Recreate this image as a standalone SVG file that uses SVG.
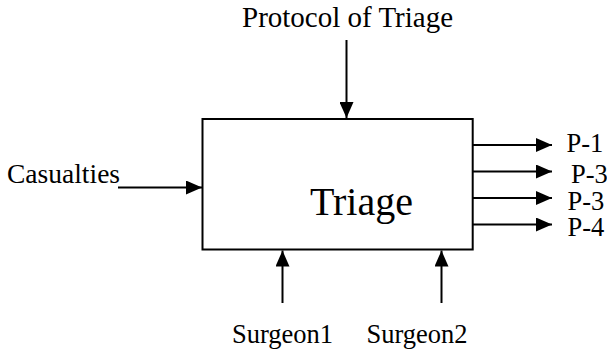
<svg xmlns="http://www.w3.org/2000/svg" width="607" height="351" viewBox="0 0 607 351">
  <style>
    .lbl { font-family: "Liberation Serif", "Times New Roman", serif; fill: #000; }
    .wire { stroke: #000; stroke-width: 2; fill: none; }
    .box { stroke: #000; stroke-width: 2; fill: #fff; }
  </style>
  <defs>
    <marker id="head" viewBox="0 0 16 14" refX="16" refY="7" markerWidth="16" markerHeight="14" markerUnits="userSpaceOnUse" orient="auto">
      <path d="M0,0 L16,7 L0,14 Z" fill="#000"/>
    </marker>
  </defs>
  <rect width="607" height="351" fill="#fff"/>

  <g id="triage">
    <rect class="box" x="202.5" y="119" width="270.2" height="130.5"/>
    <text class="lbl" x="310" y="215" font-size="40">Triage</text>
  </g>

  <g id="protocol">
    <text class="lbl" x="242" y="27" font-size="29">Protocol of Triage</text>
  </g>

  <g id="casualties">
    <text class="lbl" x="7" y="183" font-size="27.5">Casualties</text>
  </g>

  <g id="outputs">
    <text class="lbl" x="566.5" y="152" font-size="26.5">P-1</text>
    <text class="lbl" x="571" y="182.5" font-size="26.5">P-3</text>
    <text class="lbl" x="567.5" y="209.5" font-size="26.5">P-3</text>
    <text class="lbl" x="567.5" y="236" font-size="26.5">P-4</text>
  </g>

  <g id="surgeon1">
    <text class="lbl" x="232" y="343" font-size="26.5">Surgeon1</text>
  </g>

  <g id="surgeon2">
    <text class="lbl" x="366.5" y="343" font-size="26.5">Surgeon2</text>
  </g>

  <g id="connectors">
    <line class="wire" x1="346.5" y1="40" x2="346.5" y2="118" marker-end="url(#head)"/>
    <line class="wire" x1="118" y1="187.5" x2="202" y2="187.5" marker-end="url(#head)"/>
    <line class="wire" x1="473" y1="145" x2="552" y2="145" marker-end="url(#head)"/>
    <line class="wire" x1="473" y1="171.5" x2="552" y2="171.5" marker-end="url(#head)"/>
    <line class="wire" x1="473" y1="198" x2="552" y2="198" marker-end="url(#head)"/>
    <line class="wire" x1="473" y1="224.5" x2="552" y2="224.5" marker-end="url(#head)"/>
    <line class="wire" x1="282.5" y1="303" x2="282.5" y2="250.5" marker-end="url(#head)"/>
    <line class="wire" x1="441.5" y1="303" x2="441.5" y2="250.5" marker-end="url(#head)"/>
  </g>
</svg>
